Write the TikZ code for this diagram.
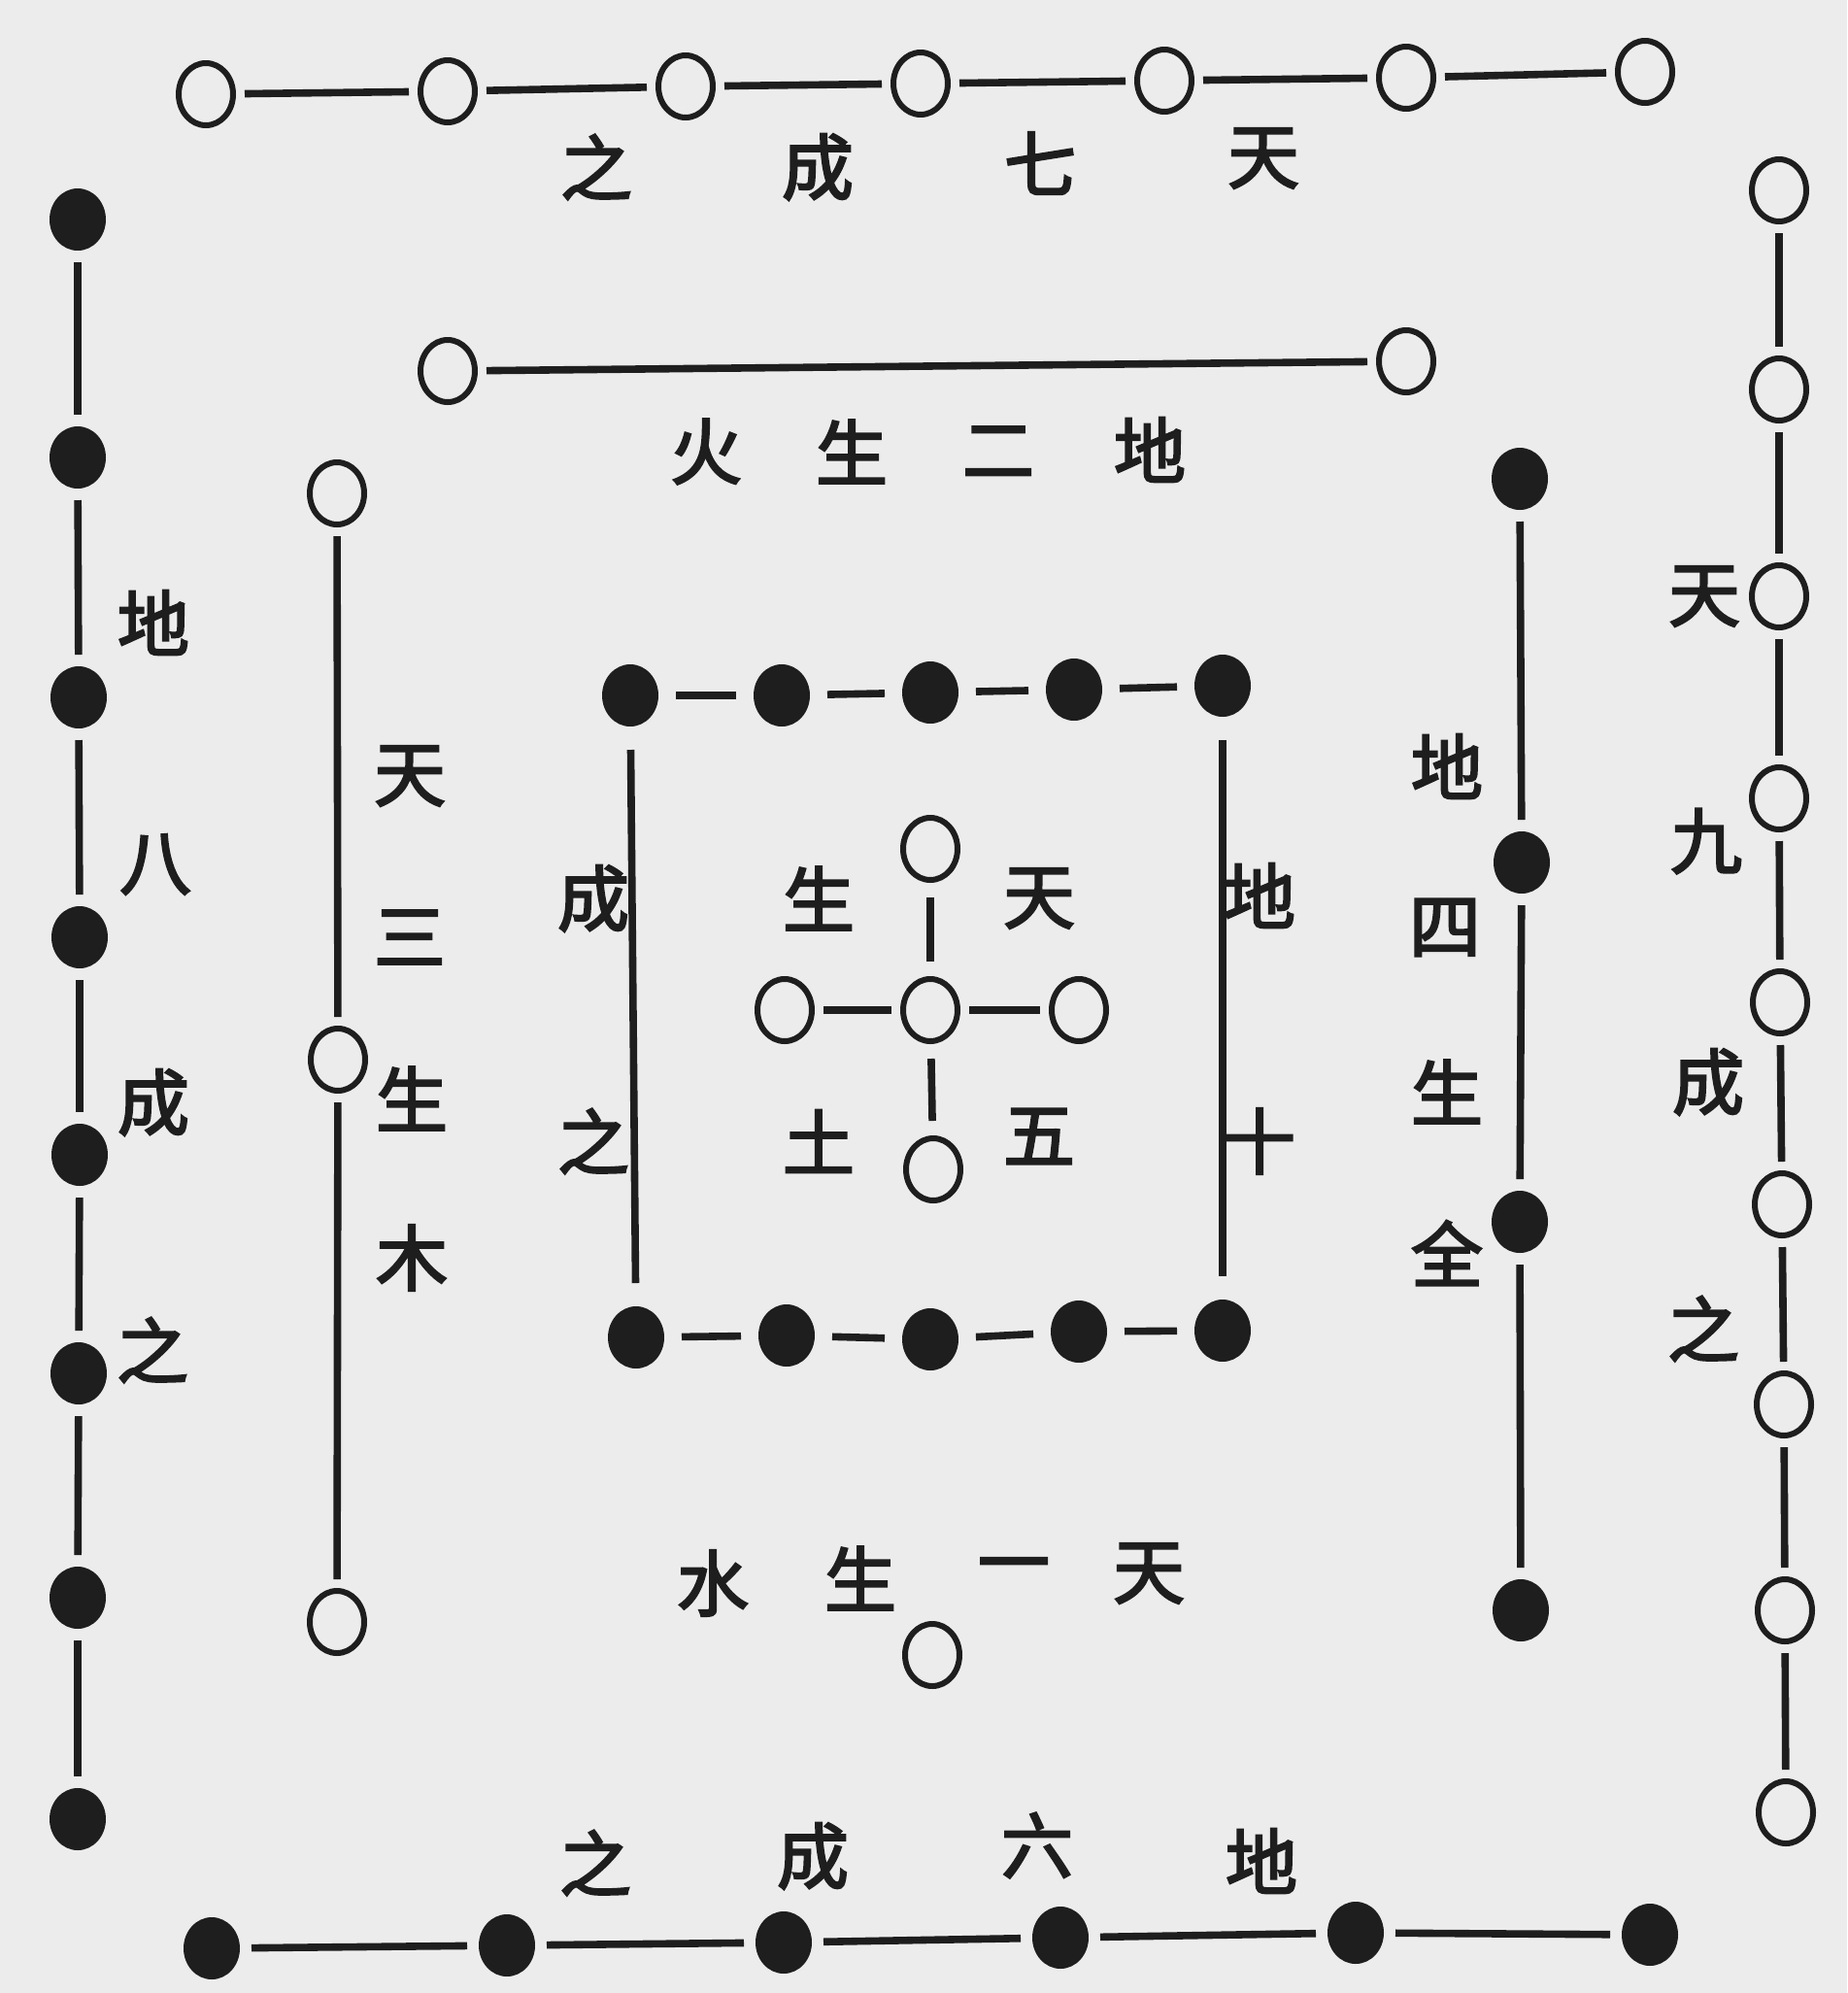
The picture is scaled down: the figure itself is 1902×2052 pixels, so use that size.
\documentclass[tikz,border=0pt]{standalone}
\usepackage{fontspec}
\newfontfamily\cjk{Noto Sans CJK SC}[FakeBold=3]
\usetikzlibrary{shapes.geometric}
\definecolor{bg}{HTML}{ECECEC}
\definecolor{ink}{HTML}{1E1E1E}
\tikzset{
  wc/.style={ellipse, draw=ink, line width=3pt, fill=bg, minimum width=28pt, minimum height=32pt, inner sep=0pt, outer sep=0pt},
  bc/.style={ellipse, fill=ink, minimum width=29pt, minimum height=32pt, inner sep=0pt, outer sep=0pt},
  ch/.style={font=\cjk\fontsize{37}{37}\selectfont, text=ink, inner sep=0pt},
  ln/.style={draw=ink, line width=3.8pt, shorten <=6pt, shorten >=6pt}
}
\begin{document}
\begin{tikzpicture}[x=0.5pt,y=-0.5pt]
\fill[bg] (0,0) rectangle (1902,2052);
\useasboundingbox (0,0) rectangle (1902,2052);
% top row: 7 white
\node[wc] (t1) at (212,97) {};
\node[wc] (t2) at (461,94) {};
\node[wc] (t3) at (706,89) {};
\node[wc] (t4) at (948,86) {};
\node[wc] (t5) at (1199,83) {};
\node[wc] (t6) at (1448,80) {};
\node[wc] (t7) at (1694,74) {};
\foreach \a/\b in {t1/t2,t2/t3,t3/t4,t4/t5,t5/t6,t6/t7} \draw[ln] (\a) -- (\b);
\node[ch] (tx1) at (614,172) {之};
\node[ch] (tx2) at (842,172) {成};
\node[ch] (tx3) at (1071,168) {七};
\node[ch] (tx4) at (1301,163) {天};
% left column: 8 black
\node[bc] (l1) at (80,226) {};
\node[bc] (l2) at (80,471) {};
\node[bc] (l3) at (81,718) {};
\node[bc] (l4) at (82,965) {};
\node[bc] (l5) at (82,1189) {};
\node[bc] (l6) at (81,1414) {};
\node[bc] (l7) at (80,1645) {};
\node[bc] (l8) at (80,1873) {};
\foreach \a/\b in {l1/l2,l2/l3,l3/l4,l4/l5,l5/l6,l6/l7,l7/l8} \draw[ln] (\a) -- (\b);
\node[ch] (lx1) at (158,641) {地};
\node[ch] (lx2) at (160,890) {八};
\node[ch] (lx3) at (158,1135) {成};
\node[ch] (lx4) at (157,1390) {之};
% right column: 9 white
\node[wc] (r1) at (1832,196) {};
\node[wc] (r2) at (1832,401) {};
\node[wc] (r3) at (1832,614) {};
\node[wc] (r4) at (1832,822) {};
\node[wc] (r5) at (1833,1032) {};
\node[wc] (r6) at (1835,1240) {};
\node[wc] (r7) at (1837,1446) {};
\node[wc] (r8) at (1838,1658) {};
\node[wc] (r9) at (1839,1866) {};
\foreach \a/\b in {r1/r2,r2/r3,r3/r4,r4/r5,r5/r6,r6/r7,r7/r8,r8/r9} \draw[ln] (\a) -- (\b);
\node[ch] (rx1) at (1755,614) {天};
\node[ch] (rx2) at (1757,866) {九};
\node[ch] (rx3) at (1759,1114) {成};
\node[ch] (rx4) at (1754,1368) {之};
% bottom row: 6 black
\node[bc] (b1) at (218,2006) {};
\node[bc] (b2) at (522,2003) {};
\node[bc] (b3) at (807,2000) {};
\node[bc] (b4) at (1092,1995) {};
\node[bc] (b5) at (1396,1990) {};
\node[bc] (b6) at (1699,1992) {};
\foreach \a/\b in {b1/b2,b2/b3,b3/b4,b4/b5,b5/b6} \draw[ln] (\a) -- (\b);
\node[ch] (bx1) at (613,1918) {之};
\node[ch] (bx2) at (837,1911) {成};
\node[ch] (bx3) at (1068,1900) {六};
\node[ch] (bx4) at (1299,1916) {地};
% second ring: top (2 white)
\node[wc] (sT1) at (461,382) {};
\node[wc] (sT2) at (1448,372) {};
\draw[ln] (sT1) -- (sT2);
\node[ch] (sx1) at (727,465) {火};
\node[ch] (sx2) at (877,465) {生};
\node[ch] (sx3) at (1028,465) {二};
\node[ch] (sx4) at (1184,463) {地};
% second ring: left (3 white)
\node[wc] (sL1) at (347,508) {};
\node[wc] (sL2) at (348,1091) {};
\node[wc] (sL3) at (347,1670) {};
\draw[ln] (sL1) -- (sL2);
\draw[ln] (sL2) -- (sL3);
\node[ch] (slx1) at (422,799) {天};
\node[ch] (slx2) at (422,965) {三};
\node[ch] (slx3) at (424,1131) {生};
\node[ch] (slx4) at (424,1295) {木};
% second ring: right (4 black)
\node[bc] (sR1) at (1565,493) {};
\node[bc] (sR2) at (1567,888) {};
\node[bc] (sR3) at (1565,1258) {};
\node[bc] (sR4) at (1566,1658) {};
\foreach \a/\b in {sR1/sR2,sR2/sR3,sR3/sR4} \draw[ln] (\a) -- (\b);
\node[ch] (srx1) at (1490,789) {地};
\node[ch] (srx2) at (1488,955) {四};
\node[ch] (srx3) at (1490,1124) {生};
\node[ch] (srx4) at (1490,1290) {全};
% second ring: bottom (1 white)
\node[wc] (sB) at (960,1704) {};
\node[ch] (sbx1) at (734,1630) {水};
\node[ch] (sbx2) at (886,1625) {生};
\node[ch] (sbx3) at (1044,1620) {一};
\node[ch] (sbx4) at (1183,1620) {天};
% inner square: black
\node[bc] (iT1) at (649,716) {};
\node[bc] (iT2) at (805,716) {};
\node[bc] (iT3) at (958,713) {};
\node[bc] (iT4) at (1106,710) {};
\node[bc] (iT5) at (1259,706) {};
\node[bc] (iB1) at (655,1377) {};
\node[bc] (iB2) at (810,1375) {};
\node[bc] (iB3) at (958,1379) {};
\node[bc] (iB4) at (1111,1371) {};
\node[bc] (iB5) at (1259,1370) {};
\foreach \a/\b in {iT1/iT2,iT2/iT3,iT3/iT4,iT4/iT5,iB1/iB2,iB2/iB3,iB3/iB4,iB4/iB5} \draw[ln, shorten <=9pt, shorten >=9pt] (\a) -- (\b);
\draw[ln, shorten <=12pt, shorten >=12pt] (iT1) -- (iB1);
\draw[ln, shorten <=12pt, shorten >=12pt] (iT5) -- (iB5);
\node[ch] (ix1) at (611,925) {成};
\node[ch] (ix2) at (611,1175) {之};
\node[ch] (ix3) at (1297,922) {地};
\node[ch] (ix4) at (1297,1175) {十};
% centre: 5 white
\node[wc] (cN) at (958,874) {};
\node[wc] (cW) at (808,1040) {};
\node[wc] (c0) at (958,1040) {};
\node[wc] (cE) at (1111,1040) {};
\node[wc] (cS) at (961,1204) {};
\draw[ln, shorten <=9pt, shorten >=9pt] (cN) -- (c0);
\draw[ln] (cW) -- (c0);
\draw[ln] (c0) -- (cE);
\draw[ln, shorten <=9pt, shorten >=9pt] (c0) -- (cS);
\node[ch] (cx1) at (843,925) {生};
\node[ch] (cx2) at (843,1175) {土};
\node[ch] (cx3) at (1070,925) {天};
\node[ch] (cx4) at (1070,1170) {五};
\end{tikzpicture}
\end{document}
